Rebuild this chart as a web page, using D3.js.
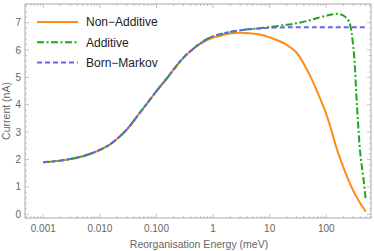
<!DOCTYPE html>
<html>
<head>
<meta charset="utf-8">
<script src="https://cdn.jsdelivr.net/npm/d3@7"></script>
<style>
  body { margin: 0; background: #fff; }
  text { font-family: "Liberation Sans", Arial, sans-serif; fill: #666; }
  .legend text { fill: #222; }
</style>
</head>
<body>
<svg width="374" height="251"></svg>
<script>
// energies (meV) sampled along the curves
var energy = [0.001, 0.002, 0.003, 0.005, 0.007, 0.01, 0.015, 0.02, 0.03, 0.05, 0.07,
  0.1, 0.15, 0.2, 0.3, 0.5, 0.7, 1, 1.5, 2, 3, 5, 7, 10, 20, 30, 50, 70,
  100, 125, 150, 175, 200, 250, 300, 350, 400, 450, 500];

var nonAdditive = [1.90, 1.96, 2.02, 2.12, 2.22, 2.35, 2.55, 2.75, 3.10, 3.69, 4.08,
  4.50, 4.95, 5.28, 5.72, 6.12, 6.31, 6.45, 6.55, 6.60, 6.63, 6.60, 6.56, 6.46, 6.19, 5.90, 5.12, 4.45,
  3.66, 3.02, 2.45, 2.05, 1.72, 1.22, 0.86, 0.60, 0.40, 0.24, 0.10];

var additive = [1.90, 1.96, 2.02, 2.12, 2.22, 2.35, 2.55, 2.75, 3.10, 3.69, 4.08,
  4.50, 4.95, 5.28, 5.72, 6.13, 6.34, 6.50, 6.60, 6.66, 6.72, 6.77, 6.80, 6.84, 6.92, 6.98, 7.08, 7.17,
  7.25, 7.30, 7.32, 7.30, 7.26, 7.05, 6.12, 3.90, 2.20, 1.37, 0.52];

var bornMarkov = [1.90, 1.96, 2.02, 2.12, 2.22, 2.35, 2.55, 2.75, 3.10, 3.69, 4.08,
  4.50, 4.95, 5.28, 5.72, 6.13, 6.34, 6.50, 6.60, 6.66, 6.72, 6.77, 6.79, 6.81, 6.83, 6.83, 6.83, 6.83,
  6.83, 6.83, 6.83, 6.83, 6.83, 6.83, 6.83, 6.83, 6.83, 6.83, 6.83];

var seriesNames = ['Non\u2212Additive', 'Additive', 'Born\u2212Markov'];
var xTicks = [0.001, 0.01, 0.1, 1, 10, 100];
var xTickLabels = ['0.001', '0.010', '0.100', '1', '10', '100'];
var yTicks = [0, 1, 2, 3, 4, 5, 6, 7];

function main() {
  var svg = d3.select('svg');
  var left = 25, right = 371, top = 4, bottom = 218;

  var x = d3.scaleLog().domain([0.000475, 617]).range([left, right]);
  var y = d3.scaleLinear().domain([-0.135, 7.68]).range([bottom, top]);

  var frame = '#aaa';

  // minor ticks
  var xMinor = [];
  for (var e = -4; e <= 2; e++) {
    for (var m = 1; m <= 9; m++) {
      var v = m * Math.pow(10, e);
      if (v > x.domain()[0] && v < x.domain()[1]) xMinor.push(v);
    }
  }
  var yMinor = d3.range(0, 7.61, 0.2);

  var g = svg.append('g');

  // x ticks (bottom + top)
  xMinor.forEach(function(v) {
    var major = xTicks.indexOf(+v.toPrecision(3)) >= 0;
    var len = major ? 4 : 2;
    g.append('line').attr('x1', x(v)).attr('x2', x(v)).attr('y1', bottom).attr('y2', bottom - len)
      .attr('stroke', frame).attr('stroke-width', 0.7);
    g.append('line').attr('x1', x(v)).attr('x2', x(v)).attr('y1', top).attr('y2', top + len)
      .attr('stroke', frame).attr('stroke-width', 0.7);
  });
  // y ticks (left + right)
  yMinor.forEach(function(v) {
    var major = Math.abs(v - Math.round(v)) < 1e-6;
    var len = major ? 4 : 2;
    g.append('line').attr('x1', left).attr('x2', left + len).attr('y1', y(v)).attr('y2', y(v))
      .attr('stroke', frame).attr('stroke-width', 0.7);
    g.append('line').attr('x1', right).attr('x2', right - len).attr('y1', y(v)).attr('y2', y(v))
      .attr('stroke', frame).attr('stroke-width', 0.7);
  });

  // frame
  g.append('rect').attr('x', left).attr('y', top).attr('width', right - left).attr('height', bottom - top)
    .attr('fill', 'none').attr('stroke', frame).attr('stroke-width', 1);

  // tick labels
  g.selectAll('.xl').data(xTicks).enter().append('text')
    .attr('x', function(d) { return x(d); })
    .attr('y', 232)
    .attr('text-anchor', 'middle')
    .attr('font-size', 10)
    .text(function(d, i) { return xTickLabels[i]; });

  g.selectAll('.yl').data(yTicks).enter().append('text')
    .attr('x', 21)
    .attr('y', function(d) { return y(d) + 3.5; })
    .attr('text-anchor', 'end')
    .attr('font-size', 10)
    .text(function(d) { return d; });

  // axis titles
  svg.append('text').attr('x', 199).attr('y', 248).attr('text-anchor', 'middle')
    .attr('font-size', 10.5).text('Reorganisation Energy  (meV)');
  svg.append('text').attr('transform', 'translate(10,111) rotate(-90)')
    .attr('text-anchor', 'middle').attr('font-size', 10.5).text('Current (nA)');

  var colors = ['#ff8c14', '#1aa81a', '#6565ee'];
  var dashes = [null, '7,2.5,2,2.5', '5,3'];
  var data = [nonAdditive, additive, bornMarkov];

  var line = d3.line()
    .x(function(d) { return x(d[0]); })
    .y(function(d) { return y(d[1]); })
    .curve(d3.curveCatmullRom.alpha(0.5));

  data.forEach(function(vals, i) {
    svg.append('path')
      .datum(energy.map(function(e, j) { return [e, vals[j]]; }))
      .attr('d', line)
      .attr('fill', 'none')
      .attr('stroke', colors[i])
      .attr('stroke-width', 2)
      .attr('stroke-dasharray', dashes[i]);
  });

  // legend
  var lg = svg.append('g').attr('class', 'legend');
  seriesNames.forEach(function(name, i) {
    var ly = 22 + i * 20.3;
    lg.append('line').attr('x1', 37).attr('x2', 78).attr('y1', ly).attr('y2', ly)
      .attr('stroke', colors[i]).attr('stroke-width', 2).attr('stroke-dasharray', dashes[i]);
    lg.append('text').attr('x', 86).attr('y', ly + 4.3).attr('font-size', 12).text(name);
  });
}
main();
</script>
</body>
</html>
